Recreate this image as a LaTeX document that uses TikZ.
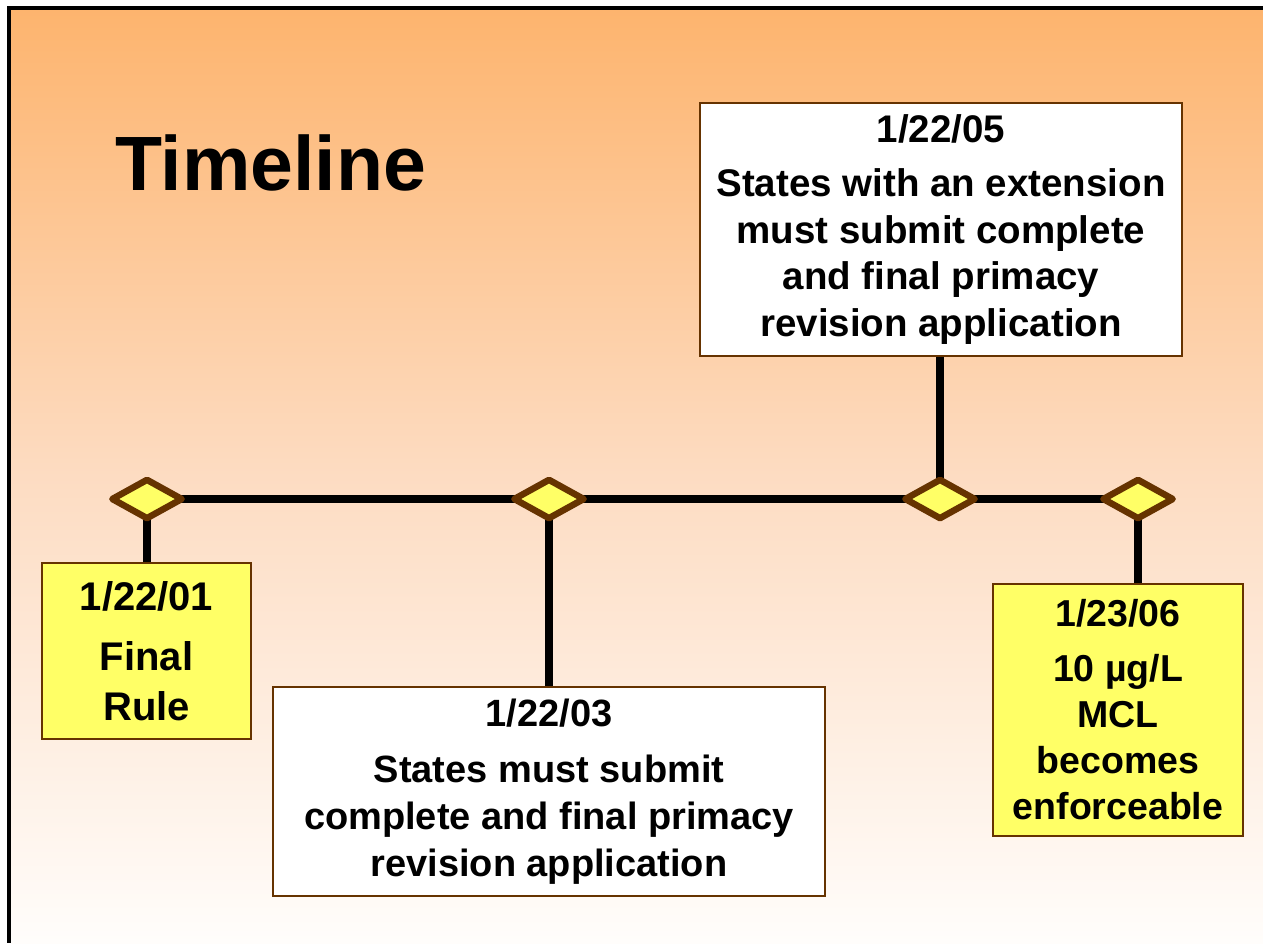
\documentclass[tikz,border=0pt]{standalone}
\usepackage{fontspec}
\setmainfont{Liberation Sans}
\usetikzlibrary{shapes.geometric}
\definecolor{brownline}{HTML}{663300}
\definecolor{boxyellow}{HTML}{FFFF66}
\definecolor{bgtop}{HTML}{FDB46E}
\definecolor{bgmid}{HTML}{FDDCC2}
\definecolor{bgbot}{HTML}{FFFDFB}
\pgfdeclareverticalshading{bgshade}{100bp}{color(0bp)=(bgbot); color(25bp)=(bgbot); color(50bp)=(bgmid); color(75bp)=(bgtop); color(100bp)=(bgtop)}
\pgfdeclarelayer{bglayer}
\pgfdeclarelayer{linelayer}
\pgfsetlayers{bglayer,linelayer,main}
\begin{document}
\begin{tikzpicture}[x=1pt,y=-1pt,
  datebox/.style={draw=brownline, line width=2pt, align=center, inner sep=0pt},
  yellowbox/.style={datebox, fill=boxyellow},
  whitebox/.style={datebox, fill=white},
  milestone/.style={diamond, draw=brownline, fill=boxyellow, line width=6.5pt, line join=round, minimum width=72pt, minimum height=41pt, inner sep=0pt},
  timeline/.style={line width=8pt, black}]
\useasboundingbox (0,0) rectangle (1263,943);
\begin{pgfonlayer}{bglayer}
\fill[white] (0,0) rectangle (1263,943);
\shade[shading=bgshade] (11,10) rectangle (1263,943);
\fill[black] (7,6) rectangle (1263,10);
\fill[black] (7,6) rectangle (11,943);
\end{pgfonlayer}

\node[anchor=base west, inner sep=0pt, font=\bfseries\fontsize{77}{90}\selectfont] (title) at (115,190) {Timeline};

\node[milestone] (d1) at (147,499) {};
\node[milestone] (d2) at (549,499) {};
\node[milestone] (d3) at (940,499) {};
\node[milestone] (d4) at (1138,499) {};

\node[yellowbox, minimum width=209pt, minimum height=176pt, font=\bfseries\fontsize{40}{50}\selectfont] (b1) at (146.5,651) {1/22/01\\[10pt]Final\\Rule};
\node[whitebox, minimum width=552pt, minimum height=209pt, font=\bfseries\fontsize{38}{47}\selectfont] (b2) at (549,791.5) {1/22/03\\[9pt]States must submit\\complete and final primacy\\revision application};
\node[whitebox, minimum width=482pt, minimum height=253pt, font=\bfseries\fontsize{38.5}{46.5}\selectfont] (b3) at (941,229.5) {1/22/05\\[8pt]States with an extension\\must submit complete\\and final primacy\\revision application};
\node[yellowbox, minimum width=250pt, minimum height=252pt, font=\bfseries\fontsize{37.5}{46}\selectfont] (b4) at (1118,710) {1/23/06\\[9pt]10 µg/L\\MCL\\becomes\\enforceable};

\begin{pgfonlayer}{linelayer}
\draw[timeline] (d1.center) -- (d4.center);
\draw[timeline] (d1.center) -- (d1.center |- b1.north);
\draw[timeline] (d2.center) -- (d2.center |- b2.north);
\draw[timeline] (d3.center) -- (d3.center |- b3.south);
\draw[timeline] (d4.center) -- (d4.center |- b4.north);
\end{pgfonlayer}
\end{tikzpicture}
\end{document}
